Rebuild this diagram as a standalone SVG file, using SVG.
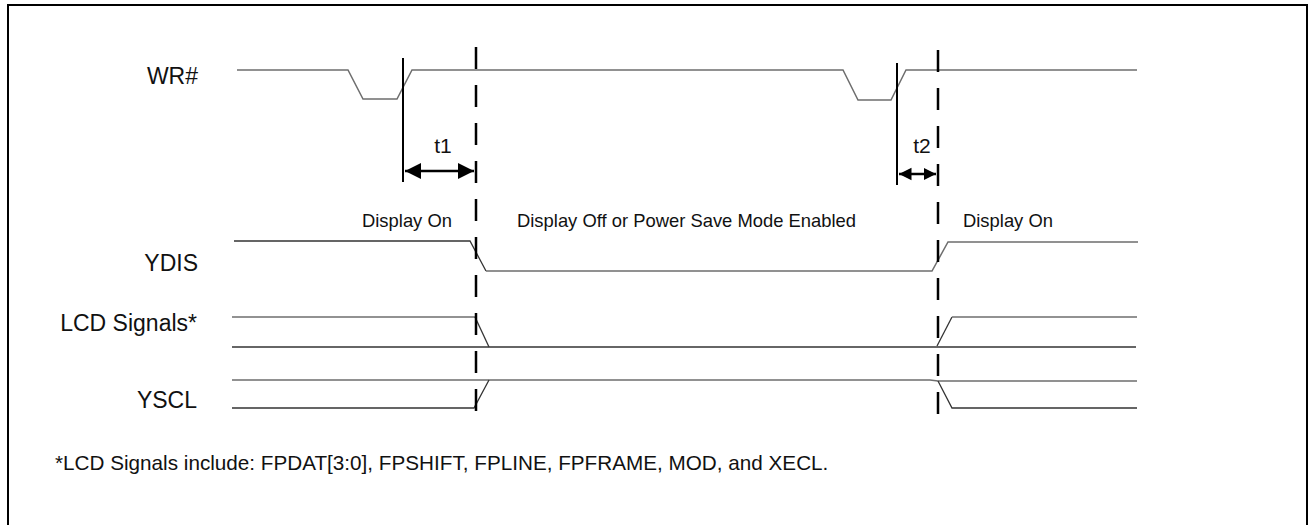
<svg xmlns="http://www.w3.org/2000/svg" width="1308" height="525" viewBox="0 0 1308 525">
<style>
.lbl{font-family:"Liberation Sans",Arial,sans-serif;font-size:23px;fill:#111;text-anchor:end}
.sm{font-family:"Liberation Sans",Arial,sans-serif;font-size:18.4px;fill:#111}
.tt{font-family:"Liberation Sans",Arial,sans-serif;font-size:21px;fill:#111;text-anchor:middle}
.note{font-family:"Liberation Sans",Arial,sans-serif;font-size:20.7px;fill:#111}
.sig{fill:none;stroke:#6e6e6e;stroke-width:1.5;stroke-linejoin:miter}
.sigd{fill:none;stroke:#333;stroke-width:1.3}
.dash{stroke:#000;stroke-width:2.5;stroke-dasharray:22 16}
.solid{stroke:#000;stroke-width:2}
.arr{stroke:#000;stroke-width:2.5}
</style>
<defs>
<marker id="ah" viewBox="0 0 10 10" refX="10" refY="5" markerWidth="6.5" markerHeight="6.5" markerUnits="strokeWidth" orient="auto-start-reverse">
<path d="M0,0 L10,5 L0,10 Z" fill="#000"/>
</marker>
<marker id="ahs" viewBox="0 0 10 10" refX="10" refY="5" markerWidth="5" markerHeight="6" markerUnits="strokeWidth" orient="auto-start-reverse">
<path d="M0,0 L10,5 L0,10 Z" fill="#000"/>
</marker>
</defs>
<rect x="8" y="5" width="1299" height="530" fill="#fff" stroke="#000" stroke-width="2"/>

<g id="wr">
<text class="lbl" x="198" y="84">WR#</text>
<polyline class="sig" points="237,70 348,70 363,99 397,99 412,70 843,70 858,100 891,100 906,70 1137,70"/>
</g>

<g id="ydis">
<text class="lbl" x="198" y="271">YDIS</text>
<polyline class="sigd" points="234,241 470,241 486,271"/>
<polyline class="sig" points="486,271 932,271 948,242 1138,242"/>
</g>

<g id="lcd">
<text class="lbl" x="197" y="331">LCD Signals*</text>
<polyline class="sig" points="232,317 475,317"/>
<polyline class="sigd" points="475,317 489,347"/>
<polyline class="sigd" points="232,347 1136,347"/>
<polyline class="sigd" points="937,346 952,317"/>
<polyline class="sig" points="952,317 1137,317"/>
</g>

<g id="yscl">
<text class="lbl" x="197" y="408">YSCL</text>
<polyline class="sig" points="232,380 930,380 938,381 1137,381"/>
<polyline class="sigd" points="232,408 474,408 489,380"/>
<polyline class="sigd" points="938,381 952,408 1137,408"/>
</g>

<g id="labels">
<text class="sm" x="362" y="227">Display On</text>
<text class="sm" x="517" y="227">Display Off or Power Save Mode Enabled</text>
<text class="sm" x="963" y="227">Display On</text>
<text class="note" x="55" y="470">*LCD Signals include: FPDAT[3:0], FPSHIFT, FPLINE, FPFRAME, MOD, and XECL.</text>
</g>

<g id="connectors">
<line class="dash" x1="476" y1="47" x2="476" y2="416"/>
<line class="dash" x1="938" y1="50" x2="938" y2="418"/>
<line class="solid" x1="403" y1="58" x2="403" y2="182"/>
<line class="solid" x1="897" y1="63" x2="897" y2="185"/>
<line class="arr" x1="405" y1="171" x2="474" y2="171" marker-start="url(#ah)" marker-end="url(#ah)"/>
<line class="arr" x1="899" y1="174" x2="936" y2="174" marker-start="url(#ahs)" marker-end="url(#ahs)"/>
<text class="tt" x="443" y="153">t1</text>
<text class="tt" x="922" y="153">t2</text>
</g>
</svg>
